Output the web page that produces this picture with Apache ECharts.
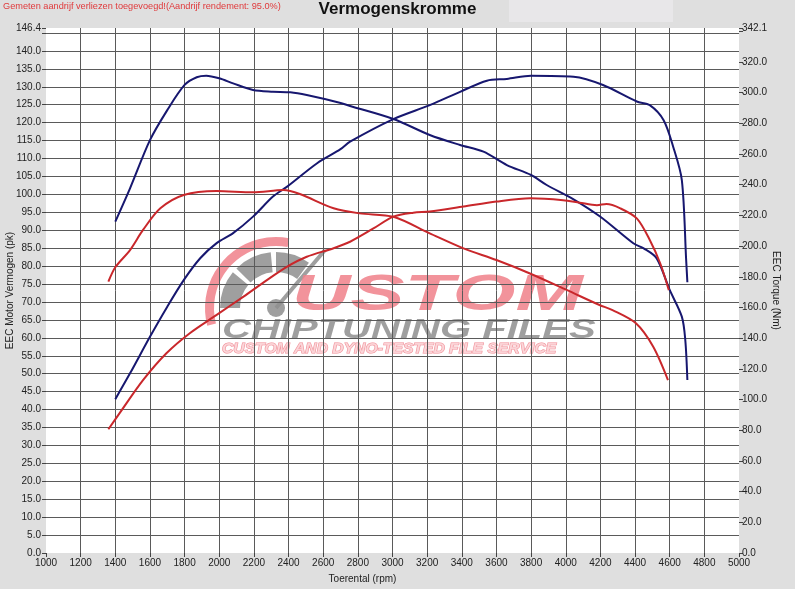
<!DOCTYPE html>
<html>
<head>
<meta charset="utf-8">
<script src="https://cdn.jsdelivr.net/npm/echarts@6/dist/echarts.min.js"></script>
<style>
  html, body { margin: 0; padding: 0; background: #dfdfdf; }
  #chart { width: 795px; height: 589px; }
</style>
</head>
<body>
<div id="chart"></div>
<script>
// toerental-as
const rpmTicks = { min: 1000, max: 5000, step: 200 };

// getuned: vermogen (pk) en koppel (Nm)
const tunedPowerRpm = [1400, 1485, 1600, 1700, 1795, 1890, 1985, 2080, 2195, 2310, 2390, 2565, 2700, 2755, 3005, 3215, 3390, 3545, 3660, 3800, 4045, 4215, 4410, 4485, 4565, 4620, 4670, 4695, 4702];
const tunedPower = [42.9, 50.1, 60.3, 68.7, 76.1, 82.2, 86.4, 89.2, 93.8, 99.4, 102.1, 108.7, 112.6, 114.7, 121.0, 124.9, 128.6, 131.7, 132.2, 133.1, 132.8, 130.5, 125.9, 124.9, 120.7, 113.3, 104.0, 81.7, 75.5];

const tunedTorqueRpm = [1400, 1485, 1600, 1700, 1800, 1870, 1925, 2000, 2080, 2195, 2310, 2410, 2505, 2695, 2755, 3005, 3215, 3390, 3525, 3660, 3800, 3890, 4045, 4200, 4390, 4450, 4525, 4600, 4670, 4690, 4702];
const tunedTorque = [215.9, 237.6, 269.0, 288.6, 305.0, 310.0, 311.0, 309.3, 306.0, 301.7, 300.6, 300.2, 298.4, 293.4, 291.3, 282.8, 272.4, 265.9, 261.5, 252.8, 246.3, 239.8, 230.5, 219.1, 201.8, 198.5, 192.0, 171.4, 154.0, 138.8, 112.7];

// origineel: vermogen (pk) en koppel (Nm)
const stockPowerRpm = [1360, 1425, 1560, 1695, 1830, 1985, 2140, 2275, 2390, 2505, 2660, 2755, 2890, 3005, 3120, 3215, 3410, 3600, 3795, 3985, 4080, 4180, 4235, 4315, 4410, 4485, 4545, 4595];
const stockPower = [34.5, 39.0, 48.2, 55.7, 61.3, 66.4, 71.5, 76.1, 79.8, 82.6, 85.0, 86.8, 90.5, 93.8, 94.9, 95.2, 96.6, 98.0, 98.9, 98.4, 97.7, 97.0, 97.3, 96.1, 93.3, 87.3, 80.8, 73.3];

const stockTorqueRpm = [1360, 1400, 1485, 1560, 1660, 1795, 1985, 2195, 2370, 2465, 2660, 2810, 3005, 3215, 3410, 3600, 3790, 4005, 4195, 4270, 4405, 4505, 4590];
const stockTorque = [176.8, 186.2, 197.4, 210.5, 224.6, 233.3, 235.9, 235.0, 236.5, 233.9, 224.6, 221.3, 219.1, 208.3, 198.5, 190.9, 182.3, 171.4, 161.6, 158.3, 149.7, 134.4, 112.7];

// y-assen
const powerAxis = { min: 0, max: 146.4, step: 5, hide: [145] };
const torqueAxis = { min: 0, max: 342.1, step: 20, hide: [340] };

const zip = (xs, ys) => xs.map((x, i) => [x, ys[i]]);

const blue = '#17176f';
const red = '#c9272b';
const pink = '#f0808a';
const grey = '#8e8e8e';
const labelFont = { fontFamily: 'Liberation Sans, Arial, sans-serif', fontSize: 10, color: '#222' };

const myChart = echarts.init(document.getElementById('chart'));

const option = {
    backgroundColor: '#dfdfdf',
    animation: false,
    grid: {
        left: 46, right: 56, top: 28, bottom: 36,
        containLabel: false,
        outerBoundsMode: 'none',
        show: true, backgroundColor: '#ffffff', borderWidth: 0
    },
    xAxis: {
        type: 'value',
        min: rpmTicks.min, max: rpmTicks.max, interval: rpmTicks.step,
        name: 'Toerental (rpm)',
        nameLocation: 'middle',
        nameGap: 21,
        nameMoveOverlap: false,
        nameTextStyle: Object.assign({}, labelFont, { padding: [0, 60, 0, 0] }),
        axisLine: { show: false },
        axisTick: { show: true, length: 4, lineStyle: { color: '#444' } },
        axisLabel: Object.assign({}, labelFont, { margin: 5, formatter: v => String(v) }),
        splitLine: { show: true, showMinLine: false, showMaxLine: false, lineStyle: { color: '#5a5a5a', width: 1 } }
    },
    yAxis: [{
        type: 'value',
        position: 'left',
        min: powerAxis.min, max: powerAxis.max, interval: powerAxis.step,
        name: 'EEC Motor Vermogen (pk)',
        nameLocation: 'middle',
        nameRotate: 90,
        nameGap: 31,
        nameMoveOverlap: false,
        nameTextStyle: labelFont,
        axisLine: { show: false },
        axisTick: { show: true, length: 4, lineStyle: { color: '#444' } },
        axisLabel: Object.assign({}, labelFont, {
            margin: 5,
            formatter: v => powerAxis.hide.includes(v) ? '' : v.toFixed(1)
        }),
        splitLine: { show: true, showMinLine: false, showMaxLine: false, lineStyle: { color: '#5a5a5a', width: 1 } }
    }, {
        type: 'value',
        position: 'right',
        min: torqueAxis.min, max: torqueAxis.max, interval: torqueAxis.step,
        name: 'EEC Torque (Nm)',
        nameLocation: 'middle',
        nameRotate: -90,
        nameGap: 32,
        nameMoveOverlap: false,
        nameTextStyle: labelFont,
        axisLine: { show: false },
        axisTick: { show: true, length: 4, lineStyle: { color: '#444' } },
        axisLabel: Object.assign({}, labelFont, {
            margin: 3,
            formatter: v => torqueAxis.hide.includes(v) ? '' : v.toFixed(1)
        }),
        splitLine: { show: false }
    }],
    graphic: [
        { type: 'rect', shape: { x: 509, y: 0, width: 164, height: 22 }, style: { fill: '#e8e7e9' }, z: 0 },
        {
            type: 'text', left: 3, top: 2,
            style: { text: 'Gemeten aandrijf verliezen toegevoegd!(Aandrijf rendement: 95.0%)', fill: '#e0393b', font: '9.2px Liberation Sans, Arial, sans-serif' }
        },
        {
            type: 'text', left: 'center', top: 1,
            style: { text: 'Vermogenskromme', fill: '#111', font: 'bold 17px Liberation Sans, Arial, sans-serif' }
        },
        // watermerk
        {
            type: 'group', z: 1,
            children: [
                { type: 'sector', shape: { cx: 276, cy: 308, r0: 62, r: 71, startAngle: Math.PI * 0.92, endAngle: Math.PI * 1.56 }, style: { fill: pink, opacity: 0.85 } },
                { type: 'sector', shape: { cx: 276, cy: 308, r0: 36, r: 56, startAngle: Math.PI * 1.0, endAngle: Math.PI * 1.22 }, style: { fill: grey, opacity: 0.85 } },
                { type: 'sector', shape: { cx: 276, cy: 308, r0: 36, r: 56, startAngle: Math.PI * 1.25, endAngle: Math.PI * 1.47 }, style: { fill: grey, opacity: 0.85 } },
                { type: 'sector', shape: { cx: 276, cy: 308, r0: 36, r: 56, startAngle: Math.PI * 1.5, endAngle: Math.PI * 1.7 }, style: { fill: grey, opacity: 0.85 } },
                { type: 'line', shape: { x1: 276, y1: 308, x2: 325, y2: 250 }, style: { stroke: grey, lineWidth: 4, opacity: 0.85 } },
                { type: 'circle', shape: { cx: 276, cy: 308, r: 9 }, style: { fill: grey, opacity: 0.85 } },
                {
                    type: 'text', x: 292, y: 296, scaleX: 1.62,
                    style: { text: 'USTOM', fill: pink, opacity: 0.85, font: 'italic bold 50px Liberation Sans, Arial, sans-serif', textVerticalAlign: 'middle' }
                },
                {
                    type: 'text', x: 222, y: 330, scaleX: 1.43,
                    style: { text: 'CHIPTUNING FILES', fill: grey, opacity: 0.85, font: 'italic bold 28px Liberation Sans, Arial, sans-serif', textVerticalAlign: 'middle' }
                },
                {
                    type: 'text', x: 222, y: 349, scaleX: 1.12,
                    style: { text: 'CUSTOM AND DYNO-TESTED FILE SERVICE', fill: '#fbd4d7', stroke: pink, lineWidth: 1, opacity: 0.9, font: 'italic bold 14px Liberation Sans, Arial, sans-serif', textVerticalAlign: 'middle' }
                }
            ]
        }
    ],
    series: [{
        name: 'Vermogen getuned',
        type: 'line', yAxisIndex: 0, smooth: 0.3, showSymbol: false, z: 3,
        lineStyle: { color: blue, width: 2 },
        data: zip(tunedPowerRpm, tunedPower)
    }, {
        name: 'Koppel getuned',
        type: 'line', yAxisIndex: 1, smooth: 0.3, showSymbol: false, z: 3,
        lineStyle: { color: blue, width: 2 },
        data: zip(tunedTorqueRpm, tunedTorque)
    }, {
        name: 'Vermogen origineel',
        type: 'line', yAxisIndex: 0, smooth: 0.3, showSymbol: false, z: 3,
        lineStyle: { color: red, width: 2 },
        data: zip(stockPowerRpm, stockPower)
    }, {
        name: 'Koppel origineel',
        type: 'line', yAxisIndex: 1, smooth: 0.3, showSymbol: false, z: 3,
        lineStyle: { color: red, width: 2 },
        data: zip(stockTorqueRpm, stockTorque)
    }]
};

myChart.setOption(option);
</script>
</body>
</html>
